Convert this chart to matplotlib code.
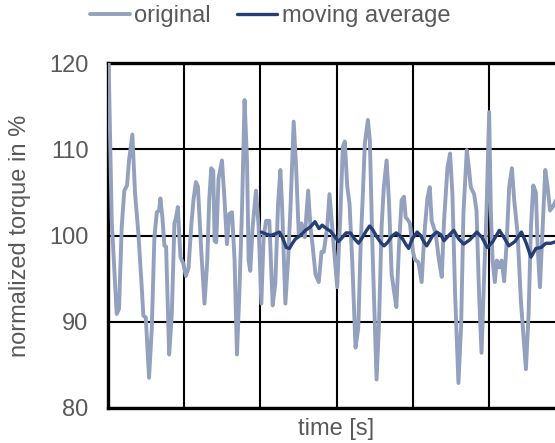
import matplotlib
matplotlib.use("Agg")
import matplotlib.pyplot as plt

# ---- data (time in grid units, torque in %) ----
orig_t = [0.007, 0.049, 0.114, 0.145, 0.180, 0.214, 0.250, 0.276, 0.320, 0.355,
          0.399, 0.443, 0.464, 0.496, 0.539, 0.575, 0.609, 0.641, 0.671, 0.688,
          0.714, 0.741, 0.763, 0.803, 0.838, 0.872, 0.891, 0.917, 0.951, 0.991,
          1.022, 1.057, 1.092, 1.122, 1.154, 1.180, 1.224, 1.267, 1.303, 1.329,
          1.355, 1.382, 1.399, 1.421, 1.451, 1.496, 1.530, 1.562, 1.592, 1.628,
          1.662, 1.693, 1.724, 1.759, 1.793, 1.825, 1.846, 1.868, 1.899, 1.943,
          1.978, 2.013, 2.043, 2.075, 2.118, 2.162, 2.197, 2.233, 2.263, 2.286,
          2.329, 2.364, 2.395, 2.438, 2.470, 2.504, 2.539, 2.583, 2.628, 2.658,
          2.688, 2.724, 2.767, 2.803, 2.833, 2.878, 2.908, 2.951, 3.009, 3.053,
          3.083, 3.109, 3.141, 3.171, 3.207, 3.250, 3.286, 3.316, 3.346, 3.372,
          3.412, 3.438, 3.470, 3.504, 3.526, 3.557, 3.592, 3.622, 3.658, 3.688,
          3.724, 3.754, 3.786, 3.820, 3.855, 3.886, 3.908, 3.938, 3.964, 4.004,
          4.030, 4.075, 4.118, 4.154, 4.193, 4.224, 4.250, 4.303, 4.346, 4.382,
          4.412, 4.457, 4.491, 4.522, 4.557, 4.601, 4.636, 4.667, 4.711, 4.741,
          4.763, 4.807, 4.838, 4.872, 4.904, 4.938, 4.970, 5.004, 5.026, 5.049,
          5.079, 5.105, 5.136, 5.167, 5.201, 5.233, 5.267, 5.303, 5.333, 5.378,
          5.421, 5.487, 5.522, 5.553, 5.583, 5.618, 5.641, 5.671, 5.707, 5.741,
          5.772, 5.803, 5.838, 5.882, 5.974]
orig_v = [120.5, 101.7, 90.9, 91.5, 101.0, 105.2, 105.8, 108.7, 111.7, 104.9,
          100.2, 94.0, 90.7, 90.5, 83.5, 89.3, 99.8, 102.7, 102.9, 104.3,
          102.1, 98.8, 98.7, 86.2, 90.9, 101.4, 102.0, 103.3, 97.5, 96.7,
          95.3, 96.2, 101.0, 104.1, 106.2, 105.7, 98.3, 92.1, 97.1, 104.1,
          107.8, 107.5, 99.4, 99.2, 106.6, 108.7, 104.1, 99.0, 102.5, 102.7,
          97.1, 86.2, 93.2, 102.9, 115.7, 108.7, 97.1, 95.9, 101.0, 105.2,
          101.0, 92.1, 99.8, 101.7, 101.7, 91.9, 94.5, 103.7, 107.6, 103.3,
          92.1, 97.1, 103.0, 113.2, 107.9, 100.2, 101.4, 99.8, 105.2, 101.0,
          98.7, 95.5, 94.6, 98.1, 98.1, 101.0, 104.8, 100.2, 94.0, 102.9,
          110.3, 110.9, 105.7, 103.7, 96.9, 87.0, 89.3, 98.7, 104.8, 110.7,
          113.4, 111.0, 99.2, 89.5, 83.3, 89.5, 101.0, 105.7, 108.7, 104.1,
          95.5, 93.6, 91.7, 98.7, 104.1, 104.5, 102.1, 101.8, 101.4, 98.1,
          97.2, 96.9, 94.6, 100.2, 104.3, 105.6, 101.7, 100.2, 97.1, 95.2,
          101.7, 107.9, 109.5, 104.8, 93.2, 82.9, 89.5, 102.7, 109.9, 107.6,
          105.6, 104.8, 102.9, 93.2, 86.4, 95.2, 102.9, 114.3, 102.9, 97.1,
          94.6, 97.1, 96.3, 97.1, 94.7, 99.0, 105.6, 107.8, 104.1, 100.2,
          92.4, 84.5, 90.9, 101.0, 105.8, 105.0, 98.7, 94.0, 101.0, 107.6,
          105.6, 102.9, 103.3, 104.1, 103.5]

avg_t = [2.013, 2.066, 2.132, 2.197, 2.250, 2.289, 2.342, 2.382, 2.421, 2.461,
         2.526, 2.592, 2.658, 2.717, 2.770, 2.812, 2.868, 2.921, 2.974, 3.026,
         3.079, 3.125, 3.184, 3.237, 3.289, 3.342, 3.388, 3.434, 3.474, 3.526,
         3.579, 3.625, 3.671, 3.724, 3.783, 3.829, 3.868, 3.908, 3.947, 3.993,
         4.059, 4.105, 4.145, 4.184, 4.224, 4.263, 4.316, 4.368, 4.412, 4.474,
         4.539, 4.605, 4.671, 4.750, 4.842, 4.908, 4.980, 5.053, 5.138, 5.197,
         5.263, 5.342, 5.428, 5.487, 5.553, 5.618, 5.684, 5.750, 5.816, 5.882,
         5.974]
avg_v = [100.4, 100.2, 100.0, 100.2, 100.4, 99.8, 98.6, 98.5, 99.1, 99.6,
         100.0, 100.6, 101.0, 101.6, 100.8, 101.2, 100.8, 100.5, 99.9, 99.3,
         99.8, 100.3, 100.3, 99.6, 99.1, 99.8, 100.5, 101.1, 100.7, 99.9,
         99.2, 98.8, 99.2, 99.9, 100.3, 100.0, 99.6, 99.0, 98.5, 99.6,
         100.4, 100.0, 99.3, 98.8, 99.4, 100.0, 100.4, 100.1, 99.4, 100.0,
         100.6, 99.6, 99.0, 99.5, 100.4, 99.8, 98.6, 99.3, 100.6, 99.8,
         98.8, 99.3, 100.4, 99.2, 97.5, 98.5, 98.6, 99.1, 99.1, 99.3,
         99.4]

y_ticks = [80, 90, 100, 110, 120]
x_grid = [0, 1, 2, 3, 4, 5, 6]
series_names = ["original", "moving average"]

# ---- styling ----
TXT = "#595959"
C_ORIG = "#93A0BE"
C_AVG = "#263F73"
plt.rcParams["font.family"] = ["Liberation Sans", "DejaVu Sans"]

fig = plt.figure(figsize=(5.55, 4.43), dpi=100)
ax = fig.add_axes([108/555, 1 - 408/443, (565 - 108)/555, (408 - 63)/443])

ax.plot(orig_t, orig_v, color=C_ORIG, lw=2.8, label=series_names[0],
        solid_joinstyle="round", solid_capstyle="round", zorder=3)
ax.plot(avg_t, avg_v, color=C_AVG, lw=2.4, label=series_names[1],
        solid_joinstyle="round", solid_capstyle="round", zorder=4)

ax.set_xlim(x_grid[0], x_grid[-1])
ax.set_ylim(y_ticks[0], y_ticks[-1])
ax.set_xticks(x_grid)
ax.set_xticklabels([])
ax.set_yticks(y_ticks)
ax.grid(True, color="black", lw=1.5, zorder=1)
ax.tick_params(axis="both", length=0, labelsize=17, labelcolor=TXT)
ax.tick_params(axis="y", pad=14)

for s in ["left", "top", "bottom"]:
    ax.spines[s].set_linewidth(2.4)
    ax.spines[s].set_color("black")
ax.spines["right"].set_visible(False)

ax.set_ylabel("normalized torque in %", fontsize=17, color=TXT, labelpad=13)
ax.set_xlabel("time [s]", fontsize=17, color=TXT, labelpad=4)

fig.legend(loc="center", bbox_to_anchor=(270/555, 1 - 16/443), ncol=2,
           frameon=False, fontsize=17, handlelength=1.7, handletextpad=0.2,
           columnspacing=1.1, labelcolor=TXT)

fig.savefig("out.png", dpi=100)
